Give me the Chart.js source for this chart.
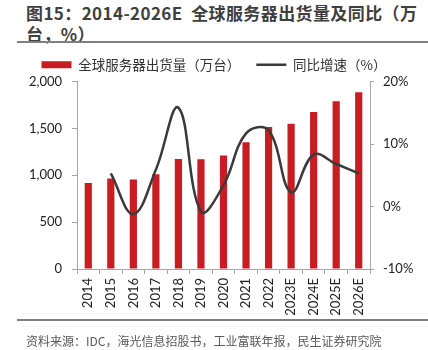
<!DOCTYPE html>
<html>
<head>
<meta charset="utf-8">
<script src="https://cdn.jsdelivr.net/npm/chart.js@4.4.1/dist/chart.umd.min.js"></script>
<style>
  body { margin: 0; width: 428px; height: 350px; background: #fff; position: relative; overflow: hidden; }
  #title { position: absolute; left: 26px; top: 2px; font: bold 17px "Noto Sans CJK SC", sans-serif; line-height: 21px; color: #3f3f3f; letter-spacing: 0.4px; }
  .rule { position: absolute; left: 17px; width: 411px; background: #7f7f7f; }
  #box { position: absolute; left: 0; top: 50px; width: 428px; height: 270px; }
  #source { position: absolute; left: 26px; top: 332px; font: 12px "Noto Sans CJK SC", sans-serif; color: #595959; }
</style>
</head>
<body>
<div id="title">图15：2014-2026E&nbsp;&nbsp;全球服务器出货量及同比（万<br>台，%）</div>
<div class="rule" style="top:41px;height:2px"></div>
<div id="box"><canvas id="grafico"></canvas></div>
<div class="rule" style="top:319px;height:1.5px"></div>
<div id="source">资料来源：IDC，海光信息招股书，工业富联年报，民生证券研究院</div>
<script>
// dados do gráfico
const anos = ['2014', '2015', '2016', '2017', '2018', '2019', '2020', '2021', '2022', '2023E', '2024E', '2025E', '2026E'];
const remessas = [918, 965, 955, 1011, 1174, 1170, 1210, 1351, 1514, 1549, 1676, 1790, 1885];
const crescimento = [null, 5.3, -1.2, 5.9, 15.8, -0.8, 3.4, 11.7, 12.2, 2.3, 8.3, 6.8, 5.3];
const ticksEsq = [0, 500, 1000, 1500, 2000];
const ticksDir = [-10, 0, 10, 20];

const eixoCor = '#a6a6a6';
const fonteNum = { family: 'Lato, "Noto Sans CJK SC", sans-serif', size: 13 };

const chartData = {
    labels: anos,
    datasets: [{
        type: 'bar',
        label: '全球服务器出货量（万台）   ',
        data: remessas,
        backgroundColor: '#c81e23',
        borderWidth: 0,
        barPercentage: 0.32,
        categoryPercentage: 1,
        pointStyle: 'rect',
        yAxisID: 'y',
        order: 2
    }, {
        type: 'line',
        label: '同比增速（%）',
        data: crescimento,
        borderColor: '#3a3a3a',
        backgroundColor: '#3a3a3a',
        borderWidth: 2.5,
        pointRadius: 0,
        pointStyle: 'line',
        tension: 0.4,
        spanGaps: true,
        yAxisID: 'y1',
        order: 1
    }]
};

const config = {
    data: chartData,
    options: {
        responsive: true,
        maintainAspectRatio: false,
        animation: false,
        layout: { padding: { top: 1, left: 0, right: 0, bottom: 0 } },
        plugins: {
            tooltip: { enabled: false },
            legend: {
                labels: {
                    usePointStyle: true,
                    pointStyleWidth: 30,
                    boxHeight: 7,
                    padding: 7,
                    color: '#333',
                    font: { family: '"Noto Sans CJK SC", sans-serif', size: 13.5 },
                    sort: (a, b) => a.datasetIndex - b.datasetIndex
                }
            }
        },
        scales: {
            x: {
                grid: { drawOnChartArea: false, tickLength: 5, color: eixoCor },
                border: { color: eixoCor },
                ticks: { minRotation: 90, maxRotation: 90, autoSkip: false, padding: 4, color: '#222', font: fonteNum },
                afterFit: s => { s.height = 51; }
            },
            y: {
                position: 'left',
                min: 0,
                max: 2000,
                afterBuildTicks: s => { s.ticks = ticksEsq.map(v => ({ value: v })); },
                grid: { drawOnChartArea: false, tickLength: 5, color: eixoCor },
                border: { color: eixoCor },
                ticks: { padding: 10, color: '#222', font: fonteNum, callback: v => v.toLocaleString('en-US') },
                afterFit: s => { s.width = 77; }
            },
            y1: {
                position: 'right',
                min: -10,
                max: 20,
                afterBuildTicks: s => { s.ticks = ticksDir.map(v => ({ value: v })); },
                grid: { drawOnChartArea: false, tickLength: 4, color: eixoCor },
                border: { color: eixoCor },
                ticks: { padding: 9, color: '#222', font: fonteNum, callback: v => v + '%' },
                afterFit: s => { s.width = 58; }
            }
        }
    }
};

new Chart(document.getElementById('grafico'), config);
</script>
</body>
</html>
